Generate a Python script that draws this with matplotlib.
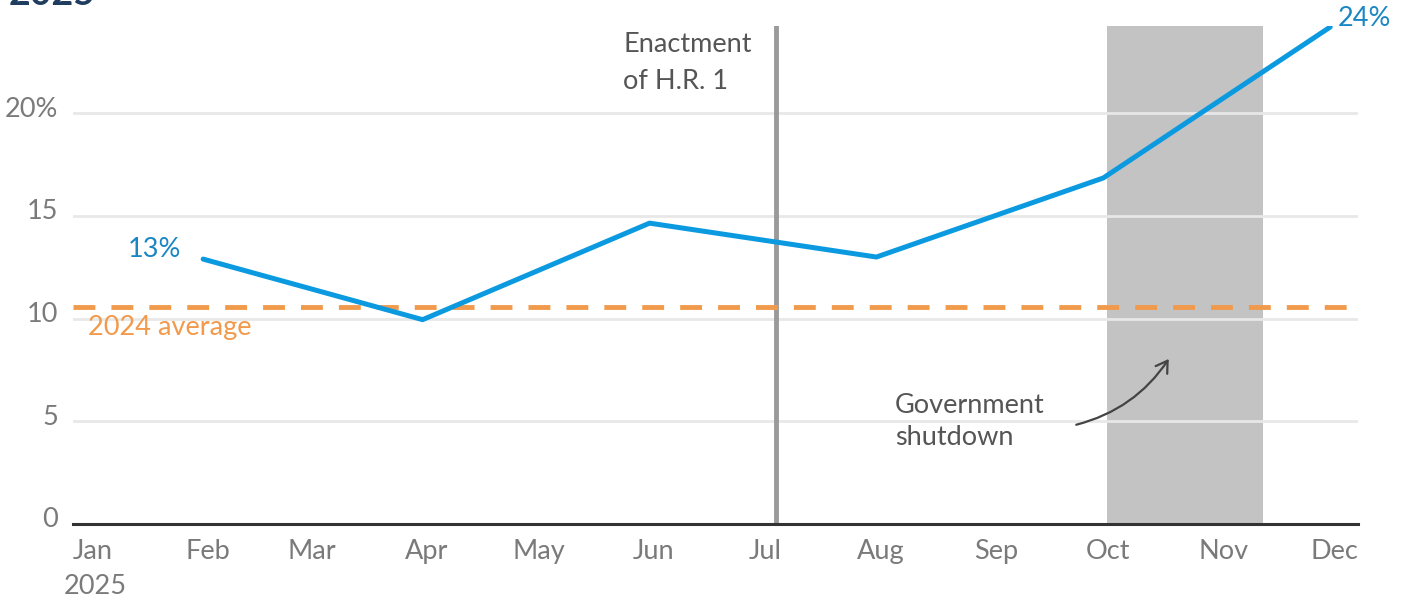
import datetime as dt
import matplotlib as mpl
import matplotlib.pyplot as plt
import matplotlib.dates as mdates
import matplotlib.transforms as mtransforms
from matplotlib.patches import FancyArrowPatch

mpl.use("Agg")
plt.rcParams["font.family"] = ["Lato", "DejaVu Sans"]

# data
monthLabels = ["Jan", "Feb", "Mar", "Apr", "May", "Jun",
               "Jul", "Aug", "Sep", "Oct", "Nov", "Dec"]
pointDates = ["2025-02-01", "2025-04-01", "2025-06-01",
              "2025-08-01", "2025-10-01", "2025-12-01"]
pointValues = [12.9, 9.95, 14.65, 13.0, 16.85, 24.2]
average2024 = 10.55
enactmentDate = "2025-07-05"
shutdownStart = "2025-10-02"
shutdownEnd = "2025-11-13"
yTicks = [0, 5, 10, 15, 20]
yTickLabels = ["0", "5", "10", "15", "20%"]


def d(s):
    return mdates.date2num(dt.datetime.strptime(s, "%Y-%m-%d"))


xs = [d(s) for s in pointDates]
monthStarts = [d("2025-%02d-01" % m) for m in range(1, 13)]

fig = plt.figure(figsize=(14.03, 5.99), dpi=100)
ax = fig.add_axes([0.052, 0.1252, 0.916, 0.8314])

gray = "#7a7a7a"
blue = "#0b9ae0"
orange = "#f29a4c"
fs = 19.5

# shaded shutdown
ax.axvspan(d(shutdownStart), d(shutdownEnd), color="#c3c3c3", lw=0, zorder=1)

# gridlines
for v in yTicks[1:]:
    ax.axhline(v, color="#e8e8e8", lw=2, zorder=2)

# enactment line
ax.axvline(d(enactmentDate), color="#9a9a9a", lw=3.5, zorder=3)

# 2024 average
ax.axhline(average2024, color=orange, lw=3.5, dashes=(4.5, 3.3), zorder=4)

# main series
ax.plot(xs, pointValues, color=blue, lw=3.6,
        solid_capstyle="round", solid_joinstyle="round", zorder=5)

ax.set_xlim(monthStarts[0] - 4.0, xs[-1] + 7.5)
ax.set_ylim(0, 24.25)

for s in ["top", "right", "left"]:
    ax.spines[s].set_visible(False)
ax.spines["bottom"].set_color("#333333")
ax.spines["bottom"].set_linewidth(2.2)
ax.spines["bottom"].set_zorder(6)

# month labels sit slightly right of the month start
ax.set_yticks([])
ax.set_xticks([m + 1.2 for m in monthStarts])
ax.set_xticklabels(monthLabels, fontsize=fs, color=gray)
ax.tick_params(axis="x", length=0, pad=11)

trans = mtransforms.blended_transform_factory(fig.transFigure, ax.transData)
for v, lab in zip(yTicks, yTickLabels):
    ax.text(0.0415, v + 0.2, lab, transform=trans, ha="right", va="center",
            fontsize=fs, color=gray)

ax.text(monthStarts[0] + 2.0, -3.05, "2025", ha="center", va="center",
        fontsize=fs, color=gray)

# annotations
ax.text(xs[0] - 6, pointValues[0] + 0.45, "13%", ha="right",
        va="center", fontsize=fs, color="#1a86c4")
ax.text(xs[-1] + 2, pointValues[-1] + 0.4, "24%", ha="left",
        va="center", fontsize=fs, color="#1a86c4")
ax.text(monthStarts[0], 9.55, "2024 average", ha="left", va="center",
        fontsize=fs, color=orange)
ax.annotate("Enactment\nof H.R. 1", xy=(d(enactmentDate), 23.95),
            xytext=(-110, 0), textcoords="offset points",
            ha="left", va="top", fontsize=fs, color="#555555",
            linespacing=1.6)
ax.text(d("2025-08-06"), 5.0, "Government\nshutdown", ha="left", va="center",
        fontsize=fs, color="#555555", linespacing=1.38)

arrow = FancyArrowPatch((d("2025-09-23"), 4.8), (d("2025-10-19"), 8.15),
                        connectionstyle="arc3,rad=0.2",
                        arrowstyle="->,head_length=8,head_width=5",
                        color="#444444", lw=1.6, zorder=7)
ax.add_patch(arrow)

# clipped title fragment at top
fig.text(0.006, 0.9917, "2025", ha="left", va="baseline",
         fontsize=27, fontweight="bold", color="#1f3d5e")

fig.savefig("out.png", dpi=100)
